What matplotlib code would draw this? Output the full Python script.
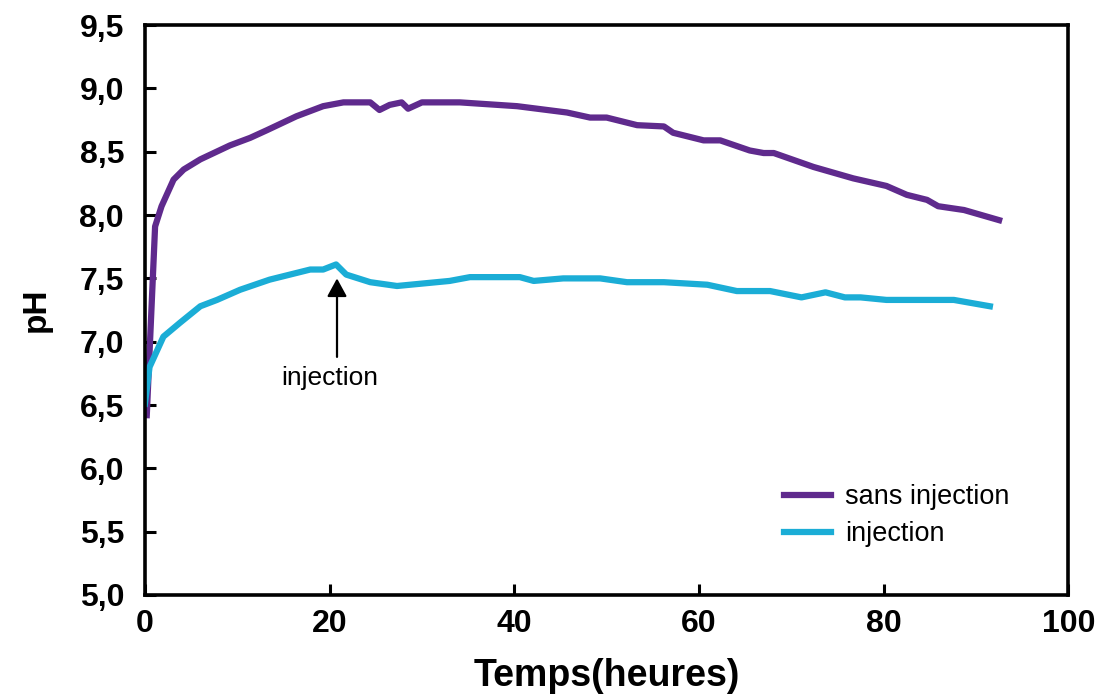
import matplotlib
matplotlib.use("Agg")
import matplotlib.pyplot as plt
from matplotlib.ticker import FuncFormatter

# pH readings
t_sans = [0.2, 1.1, 1.8, 3.1, 4.2, 6.0, 9.2, 11.4, 13.2, 16.4, 19.3, 21.5, 24.4,
          25.4, 26.5, 27.8, 28.5, 30.0, 34.1, 40.3, 45.7, 48.2, 50.0, 53.3, 56.2,
          57.2, 60.5, 62.3, 65.5, 67.0, 68.1, 72.4, 76.7, 80.3, 82.5, 84.7, 85.9,
          88.7, 92.5]
ph_sans = [6.42, 7.91, 8.07, 8.28, 8.36, 8.44, 8.55, 8.61, 8.67, 8.78, 8.86, 8.89, 8.89,
           8.83, 8.87, 8.89, 8.84, 8.89, 8.89, 8.86, 8.81, 8.77, 8.77, 8.71, 8.70,
           8.65, 8.59, 8.59, 8.51, 8.49, 8.49, 8.38, 8.29, 8.23, 8.16, 8.12, 8.07,
           8.04, 7.96]

t_inj = [0.0, 0.5, 2.0, 3.8, 6.0, 7.8, 10.3, 13.5, 17.9, 19.3, 20.7, 21.8, 24.4,
         27.3, 33.0, 35.2, 40.6, 42.1, 45.3, 49.3, 52.2, 56.2, 60.9, 64.1, 67.7,
         71.1, 73.7, 75.8, 77.5, 80.3, 87.6, 91.5]
ph_inj = [6.51, 6.80, 7.04, 7.15, 7.28, 7.33, 7.41, 7.49, 7.57, 7.57, 7.61, 7.53, 7.47,
          7.44, 7.48, 7.51, 7.51, 7.48, 7.50, 7.50, 7.47, 7.47, 7.45, 7.40, 7.40,
          7.35, 7.39, 7.35, 7.35, 7.33, 7.33, 7.28]

x_ticks = [0, 20, 40, 60, 80, 100]
y_ticks = [5.0, 5.5, 6.0, 6.5, 7.0, 7.5, 8.0, 8.5, 9.0, 9.5]

# injection marker: arrow tip / tail and label position
inj_t, inj_tip, inj_tail = 20.8, 7.50, 6.88
inj_label = (20.0, 6.71)

PURPLE = "#5f2a8d"
CYAN = "#1badd6"

plt.rcParams["font.family"] = ["Liberation Sans", "DejaVu Sans"]

fig = plt.figure(figsize=(10.98, 6.98), dpi=100)
ax = fig.add_axes([0.132, 0.1476, 0.841, 0.8164])

ax.plot(t_sans, ph_sans, color=PURPLE, lw=4.5, label="sans injection",
        solid_joinstyle="round")
ax.plot(t_inj, ph_inj, color=CYAN, lw=4.5, label="injection",
        solid_joinstyle="round")

ax.set_xlim(0, 100)
ax.set_ylim(5.0, 9.5)
ax.set_xticks(x_ticks)
ax.set_yticks(y_ticks)
ax.yaxis.set_major_formatter(FuncFormatter(lambda v, p: f"{v:.1f}".replace(".", ",")))

for s in ax.spines.values():
    s.set_linewidth(2.6)
ax.tick_params(direction="in", length=8, width=2.2, labelsize=23)
ax.tick_params(axis="x", pad=10)
ax.tick_params(axis="y", pad=15)
for lab in ax.get_xticklabels() + ax.get_yticklabels():
    lab.set_fontweight("bold")

ax.set_xlabel("Temps(heures)", fontweight="bold", fontsize=27, labelpad=14)
ax.set_ylabel("pH", fontweight="bold", fontsize=24, labelpad=20)

ax.annotate("", xy=(inj_t, inj_tip), xytext=(inj_t, inj_tail),
            arrowprops=dict(arrowstyle="-|>,head_length=0.55,head_width=0.3",
                            color="black", lw=1.6, mutation_scale=20,
                            shrinkA=0, shrinkB=0))
ax.text(*inj_label, "injection", ha="center", va="center", fontsize=19)

ax.legend(loc="upper left", bbox_to_anchor=(0.692, 0.194), frameon=False,
          fontsize=19.5, handlelength=1.75, handletextpad=0.5, labelspacing=0.4,
          borderaxespad=0, borderpad=0)

fig.savefig("out.png", dpi=100)
